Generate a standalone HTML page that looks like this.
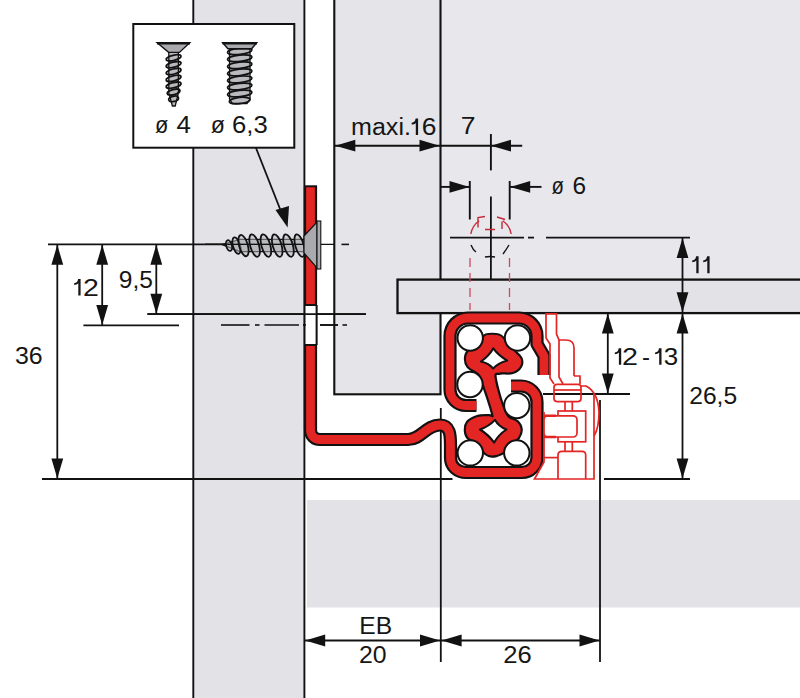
<!DOCTYPE html>
<html><head><meta charset="utf-8"><style>
html,body{margin:0;padding:0;background:#fff;overflow:hidden;}
svg{display:block;}
</style></head><body>
<svg width="800" height="698" viewBox="0 0 800 698">
<rect x="0" y="0" width="800" height="698" fill="#fff"/>
<rect x="440" y="0" width="360" height="280" fill="#e8e7ec"/>
<rect x="193" y="0" width="111" height="698" fill="#e3e2e7"/>
<rect x="307" y="500" width="493" height="107.5" fill="#e3e2e7"/>
<rect x="334.3" y="-5" width="106.2" height="399.3" fill="#e5e4e9" stroke="#121212" stroke-width="2.1"/>
<rect x="397.5" y="279.6" width="410" height="33.5" fill="#e3e3e7" stroke="#121212" stroke-width="2.3"/>
<line x1="193.3" y1="0" x2="193.3" y2="698" stroke="#121212" stroke-width="1.9" />
<line x1="304.4" y1="0" x2="304.4" y2="698" stroke="#121212" stroke-width="1.9" />
<rect x="133.3" y="24" width="161" height="123.7" fill="#fff" stroke="#121212" stroke-width="2"/>
<path d="M168.8,52 L178.4,52 L178.4,93 L175.2,106 L172.4,106 L168.8,93 Z" fill="#b9babe" stroke="#121212" stroke-width="1.3"/>
<ellipse cx="173.6" cy="57.80" rx="7.6" ry="2.6" transform="rotate(-14 173.6 57.80)" fill="none" stroke="#121212" stroke-width="1.75"/>
<ellipse cx="173.6" cy="64.65" rx="7.6" ry="2.6" transform="rotate(-14 173.6 64.65)" fill="none" stroke="#121212" stroke-width="1.75"/>
<ellipse cx="173.6" cy="71.50" rx="7.6" ry="2.6" transform="rotate(-14 173.6 71.50)" fill="none" stroke="#121212" stroke-width="1.75"/>
<ellipse cx="173.6" cy="78.35" rx="7.6" ry="2.6" transform="rotate(-14 173.6 78.35)" fill="none" stroke="#121212" stroke-width="1.75"/>
<ellipse cx="173.6" cy="85.20" rx="7.6" ry="2.6" transform="rotate(-14 173.6 85.20)" fill="none" stroke="#121212" stroke-width="1.75"/>
<ellipse cx="173.6" cy="92.05" rx="6.5" ry="2.6" transform="rotate(-14 173.6 92.05)" fill="none" stroke="#121212" stroke-width="1.75"/>
<ellipse cx="173.6" cy="98.90" rx="5" ry="2.6" transform="rotate(-14 173.6 98.90)" fill="none" stroke="#121212" stroke-width="1.75"/>
<path d="M157.2,42.8 L189.7,42.8 L179.4,52.4 L168.6,52.4 Z" fill="#a9aaae" stroke="#121212" stroke-width="1.4"/>
<line x1="157" y1="43.2" x2="190" y2="43.2" stroke="#121212" stroke-width="2.4" />
<path d="M229.5,48.8 L250,48.8 L250,99 L247,103.5 L232.5,103.5 L229.5,99 Z" fill="#b9babe" stroke="#121212" stroke-width="1.3"/>
<ellipse cx="239.7" cy="51.20" rx="12.3" ry="3.1" transform="rotate(-6 239.7 51.20)" fill="none" stroke="#121212" stroke-width="1.6"/>
<ellipse cx="239.7" cy="58.25" rx="12.3" ry="3.1" transform="rotate(-6 239.7 58.25)" fill="none" stroke="#121212" stroke-width="1.6"/>
<ellipse cx="239.7" cy="65.30" rx="12.3" ry="3.1" transform="rotate(-6 239.7 65.30)" fill="none" stroke="#121212" stroke-width="1.6"/>
<ellipse cx="239.7" cy="72.35" rx="12.3" ry="3.1" transform="rotate(-6 239.7 72.35)" fill="none" stroke="#121212" stroke-width="1.6"/>
<ellipse cx="239.7" cy="79.40" rx="12.3" ry="3.1" transform="rotate(-6 239.7 79.40)" fill="none" stroke="#121212" stroke-width="1.6"/>
<ellipse cx="239.7" cy="86.45" rx="12.3" ry="3.1" transform="rotate(-6 239.7 86.45)" fill="none" stroke="#121212" stroke-width="1.6"/>
<ellipse cx="239.7" cy="93.50" rx="12.3" ry="3.1" transform="rotate(-6 239.7 93.50)" fill="none" stroke="#121212" stroke-width="1.6"/>
<ellipse cx="239.7" cy="100.55" rx="10.5" ry="3.1" transform="rotate(-6 239.7 100.55)" fill="none" stroke="#121212" stroke-width="1.6"/>
<path d="M222.7,42.8 L256.75,42.8 L251.6,48.8 L227.9,48.8 Z" fill="#a9aaae" stroke="#121212" stroke-width="1.4"/>
<line x1="222.5" y1="43.2" x2="257" y2="43.2" stroke="#121212" stroke-width="2.4" />
<line x1="256" y1="148" x2="284" y2="219" stroke="#121212" stroke-width="1.8" />
<polygon points="287.6,227.5 275.5,210 289,206" fill="#121212"/>
<line x1="334.5" y1="145.7" x2="522.2" y2="145.7" stroke="#121212" stroke-width="1.9" />
<polygon points="335.3,145.7 355.3,139.79999999999998 355.3,151.6" fill="#121212"/>
<polygon points="439.5,145.7 419.5,139.79999999999998 419.5,151.6" fill="#121212"/>
<polygon points="491,145.7 511,139.79999999999998 511,151.6" fill="#121212"/>
<line x1="490.9" y1="134" x2="490.9" y2="170.4" stroke="#121212" stroke-width="1.9" />
<line x1="440" y1="186.9" x2="470" y2="186.9" stroke="#121212" stroke-width="1.9" />
<polygon points="469.5,186.9 449.5,181.0 449.5,192.8" fill="#121212"/>
<line x1="510" y1="186.9" x2="541.5" y2="186.9" stroke="#121212" stroke-width="1.9" />
<polygon points="510.2,186.9 530.2,181.0 530.2,192.8" fill="#121212"/>
<line x1="469.8" y1="181" x2="469.8" y2="219.5" stroke="#121212" stroke-width="1.9" />
<line x1="509.7" y1="181" x2="509.7" y2="219.5" stroke="#121212" stroke-width="1.9" />
<line x1="490.9" y1="196.6" x2="490.9" y2="279" stroke="#121212" stroke-width="1.8" />
<line x1="450" y1="237.6" x2="524" y2="237.6" stroke="#121212" stroke-width="1.8" />
<line x1="528" y1="237.6" x2="534" y2="237.6" stroke="#121212" stroke-width="1.8" />
<line x1="546" y1="237.6" x2="690" y2="237.6" stroke="#121212" stroke-width="1.8" />
<line x1="682.5" y1="237.6" x2="682.5" y2="479" stroke="#121212" stroke-width="1.8" />
<polygon points="682.5,238.1 676.6,258.1 688.4,258.1" fill="#121212"/>
<polygon points="682.5,312.3 676.6,292.3 688.4,292.3" fill="#121212"/>
<polygon points="682.5,313.6 676.6,333.6 688.4,333.6" fill="#121212"/>
<polygon points="682.5,478.5 676.6,458.5 688.4,458.5" fill="#121212"/>
<line x1="604" y1="479" x2="690" y2="479" stroke="#121212" stroke-width="1.8" />
<line x1="607.8" y1="313" x2="607.8" y2="394" stroke="#121212" stroke-width="1.8" />
<polygon points="607.8,313.6 601.9,333.6 613.6999999999999,333.6" fill="#121212"/>
<polygon points="607.8,393.5 601.9,373.5 613.6999999999999,373.5" fill="#121212"/>
<line x1="543" y1="394" x2="630" y2="394" stroke="#121212" stroke-width="1.8" />
<line x1="48" y1="244.3" x2="306" y2="244.3" stroke="#121212" stroke-width="1.8" />
<line x1="57.3" y1="244" x2="57.3" y2="479" stroke="#121212" stroke-width="1.8" />
<polygon points="57.3,244.8 51.4,264.8 63.199999999999996,264.8" fill="#121212"/>
<polygon points="57.3,478.5 51.4,458.5 63.199999999999996,458.5" fill="#121212"/>
<line x1="42" y1="479" x2="452.5" y2="479" stroke="#121212" stroke-width="1.8" />
<line x1="102.2" y1="244" x2="102.2" y2="325.5" stroke="#121212" stroke-width="1.8" />
<polygon points="102.2,244.8 96.3,264.8 108.10000000000001,264.8" fill="#121212"/>
<polygon points="102.2,325 96.3,305 108.10000000000001,305" fill="#121212"/>
<line x1="83.4" y1="325.3" x2="179" y2="325.3" stroke="#121212" stroke-width="1.8" />
<line x1="156.3" y1="244" x2="156.3" y2="314" stroke="#121212" stroke-width="1.8" />
<polygon points="156.3,244.8 150.4,264.8 162.20000000000002,264.8" fill="#121212"/>
<polygon points="156.3,313.8 150.4,293.8 162.20000000000002,293.8" fill="#121212"/>
<line x1="147.5" y1="314.2" x2="366" y2="314.2" stroke="#121212" stroke-width="1.8" />
<line x1="221" y1="325" x2="249.5" y2="325" stroke="#121212" stroke-width="1.6" />
<line x1="255" y1="325" x2="259.5" y2="325" stroke="#121212" stroke-width="1.6" />
<line x1="264.5" y1="325" x2="299" y2="325" stroke="#121212" stroke-width="1.6" />
<line x1="303" y1="325" x2="306" y2="325" stroke="#121212" stroke-width="1.6" />
<line x1="320" y1="325" x2="338" y2="325" stroke="#121212" stroke-width="1.6" />
<line x1="342.5" y1="325" x2="347" y2="325" stroke="#121212" stroke-width="1.6" />
<line x1="341.5" y1="244.4" x2="349" y2="244.4" stroke="#121212" stroke-width="1.6" />
<line x1="440.8" y1="408" x2="440.8" y2="662" stroke="#121212" stroke-width="1.8" />
<line x1="600" y1="400" x2="600" y2="662" stroke="#121212" stroke-width="1.8" />
<line x1="304.5" y1="640.5" x2="600" y2="640.5" stroke="#121212" stroke-width="1.9" />
<polygon points="305.2,640.5 325.2,634.6 325.2,646.4" fill="#121212"/>
<polygon points="440,640.5 420,634.6 420,646.4" fill="#121212"/>
<polygon points="441.6,640.5 461.6,634.6 461.6,646.4" fill="#121212"/>
<polygon points="599.5,640.5 579.5,634.6 579.5,646.4" fill="#121212"/>
<g font-family="Liberation Sans, sans-serif" fill="#161616">
<text transform="translate(155.05,132.80) scale(0.9284,1.0)" x="0" y="0" font-size="23.5">ø</text>
<text transform="translate(176.48,132.80) scale(1.1014,1.0)" x="0" y="0" font-size="23.5">4</text>
<text transform="translate(210.80,132.80) scale(0.9865,1.0)" x="0" y="0" font-size="23.5">ø</text>
<text transform="translate(231.96,132.80) scale(1.0949,1.0)" x="0" y="0" font-size="23.5">6,3</text>
<text transform="translate(350.99,135.00) scale(1.0686,1.0)" x="0" y="0" font-size="23.5">maxi.</text>
<path d="M418.1,118.6 L418.1,135 L415.8,135 L415.8,122.89999999999999 C414.8,124.19999999999999 413.30000000000007,124.6 411.70000000000005,124.6 L411.70000000000005,122.8 C414.30000000000007,122.6 415.2,121.19999999999999 415.6,118.6 Z"/>
<text transform="translate(421.78,135.00) scale(1.1240,1.0)" x="0" y="0" font-size="23.5">6</text>
<text transform="translate(460.87,134.40) scale(1.1286,1.0)" x="0" y="0" font-size="23.5">7</text>
<text transform="translate(551.59,194.40) scale(0.8665,1.0)" x="0" y="0" font-size="23.5">ø</text>
<text transform="translate(572.53,194.40) scale(1.0407,1.0)" x="0" y="0" font-size="23.5">6</text>
<path d="M698.6,256.3 L698.6,273.3 L696.3000000000001,273.3 L696.3000000000001,260.6 C695.3000000000001,261.90000000000003 693.8000000000001,262.3 692.2,262.3 L692.2,260.5 C694.8000000000001,260.3 695.7,258.90000000000003 696.1,256.3 Z"/>
<path d="M709.6,256.3 L709.6,273.3 L707.3000000000001,273.3 L707.3000000000001,260.6 C706.3000000000001,261.90000000000003 704.8000000000001,262.3 703.2,262.3 L703.2,260.5 C705.8000000000001,260.3 706.7,258.90000000000003 707.1,256.3 Z"/>
<path d="M621.2,348.3 L621.2,364.75 L618.9000000000001,364.75 L618.9000000000001,352.6 C617.9000000000001,353.90000000000003 616.4000000000001,354.3 614.8000000000001,354.3 L614.8000000000001,352.5 C617.4000000000001,352.3 618.3000000000001,350.90000000000003 618.7,348.3 Z"/>
<text transform="translate(621.97,364.75) scale(1.2211,1.0)" x="0" y="0" font-size="23.5">2</text>
<text transform="translate(642.04,364.75) scale(1.0213,1.0)" x="0" y="0" font-size="23.5">-</text>
<path d="M661.5,348.3 L661.5,364.75 L659.2,364.75 L659.2,352.6 C658.2,353.90000000000003 656.7,354.3 655.1,354.3 L655.1,352.5 C657.7,352.3 658.6,350.90000000000003 659.0,348.3 Z"/>
<text transform="translate(663.66,364.75) scale(1.1046,1.0)" x="0" y="0" font-size="23.5">3</text>
<text transform="translate(689.17,403.75) scale(1.0489,1.0)" x="0" y="0" font-size="23.5">26,5</text>
<text transform="translate(14.90,364.40) scale(1.0618,1.0)" x="0" y="0" font-size="23.5">36</text>
<path d="M80.6,278.9 L80.6,295.6 L78.3,295.6 L78.3,283.2 C77.3,284.5 75.79999999999998,284.9 74.19999999999999,284.9 L74.19999999999999,283.09999999999997 C76.79999999999998,282.9 77.7,281.5 78.1,278.9 Z"/>
<text transform="translate(82.98,295.60) scale(1.2118,1.0)" x="0" y="0" font-size="23.5">2</text>
<text transform="translate(118.77,288.10) scale(1.0442,1.0)" x="0" y="0" font-size="23.5">9,5</text>
<text transform="translate(359.23,633.60) scale(1.0496,1.0)" x="0" y="0" font-size="23.5">EB</text>
<text transform="translate(359.06,662.80) scale(1.0576,1.0)" x="0" y="0" font-size="23.5">20</text>
<text transform="translate(503.22,662.80) scale(1.0889,1.0)" x="0" y="0" font-size="23.5">26</text>
</g>
<g fill="none" stroke-linejoin="round">
<path d="M310.5,186 L310.5,430 C310.5,435.5 314.5,439.5 320,439.5 L408,439.5 C421,439.5 426,425 440,425 C450,425 450.5,435 450.5,445 L450.5,458 C450.5,466.5 457.5,472.5 466,472.5 L522,472.5 C530.3,472.5 537,465.8 537,457.5 L537,402 C537,393.2 529.8,386 521,386 L511,386" stroke="#121212" stroke-width="13.2"/>
<path d="M544,375 L544,356 L537,344 L537,336 C537,326.06 528.94,318 519,318 L468,318 C458.06,318 450,326.06 450,336 L450,389.5 C450,398.3 457.2,405.5 466,405.5 L476.5,405.5" stroke="#121212" stroke-width="13.2"/>
<path d="M486.00,335.50 C488.58,334.75 495.33,334.58 498.50,335.50 C501.67,336.42 502.42,338.33 505.00,341.00 C507.58,343.67 511.42,348.58 514.00,351.50 C516.58,354.42 519.50,356.00 520.50,358.50 C521.50,361.00 521.33,364.25 520.00,366.50 C518.67,368.75 515.83,371.00 512.50,372.00 C509.17,373.00 503.00,372.00 500.00,372.50 C497.00,373.00 494.92,371.95 494.50,375.00 C494.08,378.05 496.08,385.30 497.50,390.80 C498.92,396.30 501.25,403.55 503.00,408.00 C504.75,412.45 505.68,415.17 508.00,417.50 C510.32,419.83 514.80,420.00 516.90,422.00 C519.00,424.00 520.42,426.93 520.60,429.50 C520.78,432.07 519.43,435.32 518.00,437.40 C516.57,439.48 514.23,439.73 512.00,442.00 C509.77,444.27 507.27,448.83 504.60,451.00 C501.93,453.17 498.60,454.33 496.00,455.00 C493.40,455.67 491.07,455.67 489.00,455.00 C486.93,454.33 485.60,453.17 483.60,451.00 C481.60,448.83 479.43,444.17 477.00,442.00 C474.57,439.83 470.83,439.83 469.00,438.00 C467.17,436.17 466.17,433.58 466.00,431.00 C465.83,428.42 466.08,424.83 468.00,422.50 C469.92,420.17 474.02,418.05 477.50,417.00 C480.98,415.95 486.23,416.20 488.90,416.20 C491.57,416.20 493.07,418.37 493.50,417.00 C493.93,415.63 492.75,412.33 491.50,408.00 C490.25,403.67 487.83,396.33 486.00,391.00 C484.17,385.67 482.17,379.25 480.50,376.00 C478.83,372.75 478.00,373.08 476.00,371.50 C474.00,369.92 470.17,368.60 468.50,366.50 C466.83,364.40 465.97,361.40 466.00,358.90 C466.03,356.40 466.70,353.65 468.70,351.50 C470.70,349.35 475.62,347.92 478.00,346.00 C480.38,344.08 481.67,341.75 483.00,340.00 C484.33,338.25 483.42,336.25 486.00,335.50 Z" stroke="#121212" stroke-width="4.4" fill="#121212"/>
<path d="M310.5,186 L310.5,430 C310.5,435.5 314.5,439.5 320,439.5 L408,439.5 C421,439.5 426,425 440,425 C450,425 450.5,435 450.5,445 L450.5,458 C450.5,466.5 457.5,472.5 466,472.5 L522,472.5 C530.3,472.5 537,465.8 537,457.5 L537,402 C537,393.2 529.8,386 521,386 L511,386" stroke="#e32524" stroke-width="8.8"/>
<path d="M544,375 L544,356 L537,344 L537,336 C537,326.06 528.94,318 519,318 L468,318 C458.06,318 450,326.06 450,336 L450,389.5 C450,398.3 457.2,405.5 466,405.5 L476.5,405.5" stroke="#e32524" stroke-width="8.8"/>
<path d="M486.00,335.50 C488.58,334.75 495.33,334.58 498.50,335.50 C501.67,336.42 502.42,338.33 505.00,341.00 C507.58,343.67 511.42,348.58 514.00,351.50 C516.58,354.42 519.50,356.00 520.50,358.50 C521.50,361.00 521.33,364.25 520.00,366.50 C518.67,368.75 515.83,371.00 512.50,372.00 C509.17,373.00 503.00,372.00 500.00,372.50 C497.00,373.00 494.92,371.95 494.50,375.00 C494.08,378.05 496.08,385.30 497.50,390.80 C498.92,396.30 501.25,403.55 503.00,408.00 C504.75,412.45 505.68,415.17 508.00,417.50 C510.32,419.83 514.80,420.00 516.90,422.00 C519.00,424.00 520.42,426.93 520.60,429.50 C520.78,432.07 519.43,435.32 518.00,437.40 C516.57,439.48 514.23,439.73 512.00,442.00 C509.77,444.27 507.27,448.83 504.60,451.00 C501.93,453.17 498.60,454.33 496.00,455.00 C493.40,455.67 491.07,455.67 489.00,455.00 C486.93,454.33 485.60,453.17 483.60,451.00 C481.60,448.83 479.43,444.17 477.00,442.00 C474.57,439.83 470.83,439.83 469.00,438.00 C467.17,436.17 466.17,433.58 466.00,431.00 C465.83,428.42 466.08,424.83 468.00,422.50 C469.92,420.17 474.02,418.05 477.50,417.00 C480.98,415.95 486.23,416.20 488.90,416.20 C491.57,416.20 493.07,418.37 493.50,417.00 C493.93,415.63 492.75,412.33 491.50,408.00 C490.25,403.67 487.83,396.33 486.00,391.00 C484.17,385.67 482.17,379.25 480.50,376.00 C478.83,372.75 478.00,373.08 476.00,371.50 C474.00,369.92 470.17,368.60 468.50,366.50 C466.83,364.40 465.97,361.40 466.00,358.90 C466.03,356.40 466.70,353.65 468.70,351.50 C470.70,349.35 475.62,347.92 478.00,346.00 C480.38,344.08 481.67,341.75 483.00,340.00 C484.33,338.25 483.42,336.25 486.00,335.50 Z" fill="#e32524" stroke="none"/>
</g>
<line x1="304.5" y1="186.3" x2="317" y2="186.3" stroke="#121212" stroke-width="2" />
<rect x="305.5" y="305" width="10.5" height="39.5" fill="#fff"/>
<line x1="304.5" y1="305" x2="317" y2="305" stroke="#121212" stroke-width="2" />
<line x1="304.5" y1="345" x2="317" y2="345" stroke="#121212" stroke-width="2" />
<line x1="316.6" y1="305" x2="316.6" y2="345" stroke="#121212" stroke-width="2" />
<line x1="147.5" y1="314.2" x2="366" y2="314.2" stroke="#121212" stroke-width="1.8" />
<line x1="303" y1="325" x2="306" y2="325" stroke="#121212" stroke-width="1.6" />
<line x1="320" y1="325" x2="338" y2="325" stroke="#121212" stroke-width="1.6" />
<path d="M493.2,348.4 Q498.61,355.53 507.2,360.6 Q498.61,362.96 493.2,368.5 Q488.92,363.30 481,361.5 Q488.92,355.86 493.2,348.4 Z" fill="#fff" stroke="#121212" stroke-width="2.1" stroke-linejoin="round"/>
<path d="M495,419.9 Q498.75,426.40 506.4,429.5 Q498.42,434.80 494.1,442.6 Q488.65,434.80 480,429.5 Q488.98,426.40 495,419.9 Z" fill="#fff" stroke="#121212" stroke-width="2.1" stroke-linejoin="round"/>
<circle cx="470.2" cy="338" r="12.7" fill="#fff" stroke="#121212" stroke-width="2"/>
<circle cx="517.5" cy="338" r="12.7" fill="#fff" stroke="#121212" stroke-width="2"/>
<circle cx="470" cy="384.5" r="12.7" fill="#fff" stroke="#121212" stroke-width="2"/>
<circle cx="516.8" cy="405.6" r="12.7" fill="#fff" stroke="#121212" stroke-width="2"/>
<circle cx="470.3" cy="452.9" r="12.7" fill="#fff" stroke="#121212" stroke-width="2"/>
<circle cx="516.8" cy="452.9" r="12.7" fill="#fff" stroke="#121212" stroke-width="2"/>
<path d="M222,244.6 L240,239.4 L304,239.4 L304,251.6 L240,251.6 Z" fill="#b9babe" stroke="#121212" stroke-width="1.2"/>
<line x1="205" y1="244.4" x2="335" y2="244.4" stroke="#121212" stroke-width="1.4" />
<ellipse cx="229" cy="245.6" rx="2.8" ry="5.5" transform="rotate(-16 229 245.6)" fill="#b9babe" fill-opacity="0.5" stroke="#121212" stroke-width="1.8"/>
<ellipse cx="236.5" cy="245.6" rx="3.6" ry="8.5" transform="rotate(-16 236.5 245.6)" fill="#b9babe" fill-opacity="0.5" stroke="#121212" stroke-width="1.8"/>
<ellipse cx="243.5" cy="245.6" rx="4.3" ry="11.0" transform="rotate(-16 243.5 245.6)" fill="#b9babe" fill-opacity="0.5" stroke="#121212" stroke-width="1.8"/>
<ellipse cx="254.6" cy="245.6" rx="4.4" ry="11.6" transform="rotate(-16 254.6 245.6)" fill="#b9babe" fill-opacity="0.5" stroke="#121212" stroke-width="1.8"/>
<ellipse cx="265.9" cy="245.6" rx="4.4" ry="11.6" transform="rotate(-16 265.9 245.6)" fill="#b9babe" fill-opacity="0.5" stroke="#121212" stroke-width="1.8"/>
<ellipse cx="277.2" cy="245.6" rx="4.4" ry="11.6" transform="rotate(-16 277.2 245.6)" fill="#b9babe" fill-opacity="0.5" stroke="#121212" stroke-width="1.8"/>
<ellipse cx="288.5" cy="245.6" rx="4.4" ry="11.6" transform="rotate(-16 288.5 245.6)" fill="#b9babe" fill-opacity="0.5" stroke="#121212" stroke-width="1.8"/>
<ellipse cx="299.6" cy="245.6" rx="4.2" ry="11.6" transform="rotate(-16 299.6 245.6)" fill="#b9babe" fill-opacity="0.5" stroke="#121212" stroke-width="1.8"/>
<line x1="205" y1="244.4" x2="304" y2="244.4" stroke="#121212" stroke-width="1.3" />
<path d="M304,236 L317,222 L317,268 L304,253 Z" fill="#a9aaae" stroke="#121212" stroke-width="1.2"/>
<rect x="317" y="221" width="3.8" height="48" fill="#a9aaae" stroke="#121212" stroke-width="1.1"/>
<g fill="none" stroke="#e32524" stroke-width="1.7">
<path d="M546,313 L546,338 L550,344 L550,378 L554,384"/>
<path d="M556.5,313 L556.5,334 L559,340 L559,377 L563,384"/>
<path d="M559,340 L566,340 Q574,340 574,348 L574,376"/>
<path d="M574,376 L580,376 L580,384"/>
<rect x="554" y="384.3" width="27" height="17.3" rx="3"/>
<path d="M554,390 L581,390"/>
<path d="M581,386 L586,386 Q598,392 599,412 Q599,428 594,436"/>
<path d="M594,394 L594,479 L534.5,479 L544,462 L544,412"/>
<path d="M565,401.6 L565,411 M572.3,401.6 L572.3,411"/>
<rect x="558" y="411" width="27.7" height="30.8"/>
<rect x="544" y="415.8" width="33" height="21.2" rx="4" fill="#fff"/>
<path d="M544,415.8 L556,415.8 M544,437 L556,437" stroke-width="2.6"/>
<path d="M545.5,313.8 L557,313.8"/>
<path d="M565,441.8 L565,451.3 M572.3,441.8 L572.3,451.3"/>
<path d="M558,479 L558,455 Q558,451.3 562,451.3 L582,451.3 Q585.7,451.3 585.7,455 L585.7,479"/>
<path d="M544,457.6 L558,457.6"/>
</g>
<g fill="none" stroke="#c8283a" stroke-width="1.4">
<path d="M470,258 L470,310" stroke="#d0485e" stroke-width="1.3" stroke-dasharray="9,6"/>
<path d="M509.5,258 L509.5,310" stroke="#d0485e" stroke-width="1.3" stroke-dasharray="9,6"/>
<path d="M478,227.5 L478,217.5 L485,216.5 M497,217 L505,219.5 M502,221.5 L502,229 M485,229.5 L495,229.5"/>
<path d="M470.8,234 A20.5,20.5 0 0 1 479.2,220.8 M502.8,220.8 A20.5,20.5 0 0 1 511.2,234"/>
</g>
<g fill="none" stroke="#121212" stroke-width="1.4">
<path d="M471,245 Q473,250 476,252 M509,245 Q506,250 503,254 M485,257 Q490,256 495,257"/>
</g>
</svg>
</body></html>
